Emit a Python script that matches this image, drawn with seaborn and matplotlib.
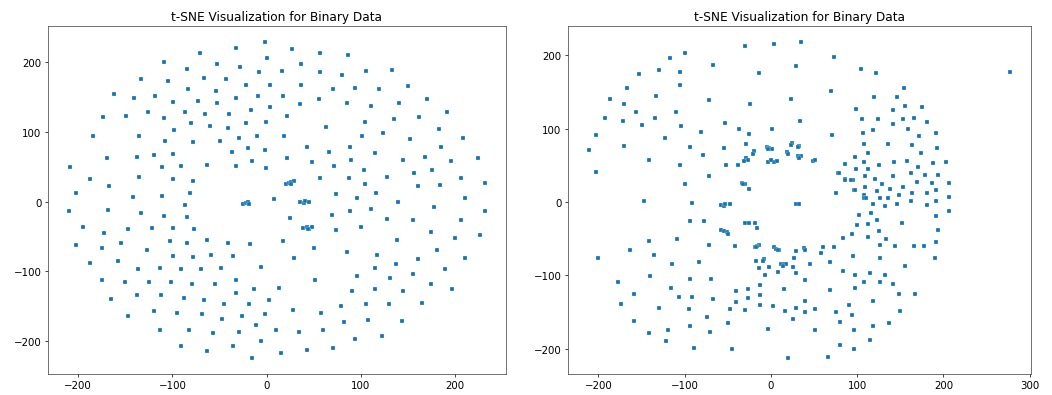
import matplotlib
matplotlib.use("Agg")
import matplotlib.pyplot as plt
import seaborn as sns
import pandas as pd

title = "t-SNE Visualization for Binary Data"

# Left panel t-SNE points (x, y)
left_points = [
    (-2, 230), (-33, 220), (27, 219), (-71, 213), (57, 213), (86, 210), (-109, 200), (0, 206), (-53, 198),
    (37, 197), (-28, 193), (-85, 191), (133, 189), (16, 188), (-8, 186), (57, 186), (106, 187), (80, 182),
    (-133, 176), (-66, 177), (-43, 176), (-105, 173), (-22, 168), (4, 167), (36, 167), (150, 166), (-83, 162),
    (70, 162), (94, 163), (119, 162), (-54, 159), (-162, 154), (-118, 152), (-9, 151), (17, 151),
    (-141, 149), (-32, 149), (170, 148), (56, 147), (-99, 143), (-73, 144), (-53, 141), (35, 140), (85, 142),
    (141, 141), (4, 136), (111, 137), (-17, 132), (-126, 129), (-87, 129), (192, 128), (-65, 126),
    (-40, 126), (-174, 122), (-149, 123), (-109, 120), (22, 123), (162, 122), (135, 119), (-22, 113), (-80, 113),
    (-1, 115), (104, 115), (-60, 108), (-41, 106), (63, 107), (-98, 103), (183, 104), (124, 99),
    (-184, 94), (-135, 94), (-29, 92), (-10, 94), (18, 94), (101, 94), (209, 91), (152, 90), (-108, 87),
    (-50, 87), (-78, 85), (-20, 77), (43, 78), (88, 79), (185, 79), (-2, 74), (-37, 71),
    (66, 71), (115, 70), (-99, 69), (-120, 67), (-138, 64), (168, 64), (224, 63), (-169, 62), (22, 62),
    (145, 60), (90, 60), (-16, 59), (48, 57), (196, 58), (-63, 53), (-32, 51), (72, 51),
    (-91, 51), (-209, 50), (-111, 49), (-1, 48), (103, 45), (176, 45), (157, 41), (-136, 35), (87, 34),
    (128, 36), (57, 34), (206, 34), (-188, 32), (-99, 32), (-78, 30),
    (21, 25), (24, 27), (26, 28), (29, 29), (26, 25), (232, 27), (104, 25), (184, 24), (-167, 22), (161, 22),
    (116, 12), (-202, 12), (-81, 12), (74, 11), (-111, 8), (96, 5), (211, 5),
    (-142, 6), (8, 4), (-25, -3), (-22, -2), (-20, -1), (-19, -3), (35, 0), (40, -2), (41, 1), (45, 0),
    (140, 0), (-210, -14), (232, -13), (-87, -5), (88, -13), (178, -8), (111, -11),
    (-168, -12), (-133, -16), (69, -19), (-85, -22), (-109, -20), (25, -24), (128, -25), (155, -27), (206, -27),
    (-195, -37), (-122, -38), (-99, -38), (-77, -39), (-147, -39), (100, -36),
    (39, -38), (43, -37), (45, -39), (48, -37), (44, -40), (74, -41), (-173, -45), (175, -43), (227, -48),
    (200, -53), (138, -55), (-103, -57), (-63, -55), (17, -56), (-155, -60), (-85, -60), (-41, -60),
    (-18, -61), (-202, -63), (-127, -69), (50, -67), (181, -70), (-175, -66), (85, -73), (-59, -77), (117, -77),
    (-99, -78), (-36, -78), (-78, -79), (29, -81), (211, -81), (161, -82), (-158, -85),
    (-187, -88), (137, -89), (-6, -94), (-113, -96), (-48, -96), (115, -96), (-137, -97), (-91, -97), (-70, -97),
    (189, -97), (96, -107), (155, -104), (-33, -112), (51, -112), (131, -110), (-175, -113),
    (-125, -116), (-150, -115), (-101, -116), (-79, -118), (-55, -119), (174, -119), (13, -124), (115, -126),
    (-13, -126), (197, -126), (145, -128), (91, -129), (-33, -131), (-138, -134), (-112, -134), (-88, -138),
    (-165, -140), (-67, -142), (2, -142), (-19, -147), (-45, -147), (105, -147), (130, -147), (165, -146),
    (79, -150), (28, -156), (-120, -157), (58, -160), (-95, -160), (-2, -161), (-69, -162), (-26, -164), (-147, -164),
    (-47, -169), (108, -170), (144, -172), (82, -173), (-11, -177), (-113, -184), (-82, -184), (10, -184), (60, -185),
    (-57, -189), (-29, -187), (34, -188), (123, -193), (94, -197), (-6, -200), (-91, -207), (-36, -208),
    (70, -210), (-63, -215), (43, -213), (15, -218), (-16, -225),
]

# Right panel t-SNE points (x, y)
right_points = [
    (35, 219), (4, 215), (-30, 213), (-100, 203), (73, 198), (-117, 196), (277, 178), (-67, 187), (29, 185),
    (104, 182), (-106, 178), (-130, 180), (-14, 176), (122, 176), (-153, 174), (-105, 160), (154, 156),
    (-167, 155), (70, 152), (-133, 145), (146, 143), (119, 143), (23, 140), (-187, 140), (-72, 139), (-170, 134),
    (-24, 134), (156, 131), (175, 129), (99, 127), (-110, 123), (-156, 123), (141, 125),
    (-192, 115), (-135, 115), (153, 113), (166, 114), (106, 113), (124, 113), (-172, 111), (34, 110), (-53, 108),
    (181, 109), (141, 106), (-150, 105), (-104, 104), (159, 100), (118, 98), (1, 99),
    (-37, 99), (-81, 96), (107, 94), (191, 94), (-203, 92), (71, 92), (172, 90), (-25, 93), (-123, 88), (136, 79),
    (108, 79), (-29, 79), (24, 80), (23, 78), (163, 78), (33, 77), (31, 75),
    (-94, 75), (-55, 74), (-170, 76), (193, 74), (-5, 75), (-2, 74), (1, 72), (-3, 72), (-211, 71), (-20, 69),
    (-21, 65), (19, 68), (20, 65), (174, 67), (112, 67), (-79, 64), (31, 63), (35, 63),
    (32, 60), (-29, 60), (-27, 58), (-31, 56), (-142, 57), (49, 56), (51, 57), (97, 62), (158, 56), (143, 54),
    (108, 55), (-3, 55), (3, 55), (7, 56), (0, 57), (125, 50), (203, 54), (188, 53),
    (-105, 50), (-52, 50), (-38, 51), (86, 52), (171, 48), (99, 45), (112, 45), (78, 40), (79, 39), (162, 39),
    (142, 36), (109, 35), (179, 37), (194, 37), (-72, 35), (86, 32), (86, 30),
    (121, 31), (95, 30), (93, 30), (169, 27), (138, 18), (187, 26), (206, 26), (129, 24), (-34, 26), (-30, 25),
    (-32, 24), (-100, 24), (109, 21), (153, 21), (-26, 18), (96, 16), (97, 16),
    (123, 15), (191, 16), (76, 13), (163, 13), (181, 12), (149, 9), (108, 9), (109, 5), (108, 5), (110, 6),
    (136, 6), (126, 5), (207, 7), (162, 1), (191, 1), (-147, 1),
    (118, -2), (146, -2), (-91, -1), (181, -4), (132, -6), (29, -2), (33, -3), (-58, -4), (-55, -5), (-53, -2),
    (-48, -3), (207, -12), (116, -15), (102, -17), (191, -19), (-94, -26), (-78, -26),
    (123, -25), (-30, -28), (-26, -29), (-19, -29), (152, -29), (100, -31), (112, -30), (-16, -35), (-58, -38),
    (-54, -40), (-51, -41), (-50, -44), (125, -39), (194, -38), (84, -49), (113, -48),
    (-109, -51), (-141, -53), (134, -50), (94, -44), (127, -58), (-72, -59), (-42, -60), (-14, -58), (-16, -60),
    (-19, -61), (-17, -61), (166, -60), (178, -60), (144, -60), (60, -62), (73, -62),
    (38, -63), (39, -65), (4, -62), (6, -64), (9, -66), (8, -65), (-164, -65), (191, -55), (29, -67), (58, -70),
    (-136, -72), (95, -74), (127, -76), (190, -76), (27, -76), (-8, -78), (-9, -81), (-17, -80), (68, -82),
    (-84, -82), (-115, -84), (45, -84), (12, -84), (15, -85), (18, -85), (14, -87), (156, -87), (26, -88),
    (-2, -89), (-14, -90), (8, -95), (84, -94), (115, -97), (29, -97), (-7, -100), (97, -100), (132, -99),
    (-140, -101), (-70, -105), (-94, -105), (40, -106), (-177, -109), (108, -109), (127, -109), (-13, -113),
    (141, -112), (-116, -117), (98, -117), (-27, -118), (15, -119), (68, -120), (-41, -122), (-159, -125),
    (148, -125), (167, -125), (-13, -127), (-107, -130), (-92, -130), (-67, -132), (-27, -131), (118, -135),
    (39, -135), (-41, -136), (-174, -139), (-13, -140), (2, -142), (91, -141), (-130, -145), (-48, -146),
    (29, -144), (51, -146), (-95, -146), (-30, -147), (39, -150), (16, -149), (76, -150), (94, -154), (-74, -157),
    (26, -159), (-159, -162), (80, -163), (-50, -165), (137, -165), (-94, -169), (118, -169), (-119, -174),
    (-4, -173), (96, -175), (51, -175), (-71, -177), (-141, -179), (150, -148), (115, -188), (-122, -190),
    (80, -195), (-89, -199), (96, -200), (-45, -201), (66, -211), (20, -213), (-200, -76), (-203, 41),
]

left_x = [p[0] for p in left_points]
left_y = [p[1] for p in left_points]
right_x = [p[0] for p in right_points]
right_y = [p[1] for p in right_points]

color = "#0f73b6"

fig = plt.figure(figsize=(16, 6.017), dpi=65.81)
ax1 = fig.add_axes([0.0456, 0.053, 0.4349, 0.8797])
ax2 = fig.add_axes([0.5394, 0.053, 0.4396, 0.8797])

for ax, xs, ys in [(ax1, left_x, left_y), (ax2, right_x, right_y)]:
    df = pd.DataFrame({"x": xs, "y": ys})
    sns.scatterplot(data=df, x="x", y="y", ax=ax, s=16, color=color,
                    edgecolor="white", linewidth=0.3, marker="s")
    ax.set_title(title, fontsize=13.3)
    ax.tick_params(labelsize=11.2)
    ax.set_xlabel("")
    ax.set_ylabel("")
    for sp in ax.spines.values():
        sp.set_color("#444444")

fig.savefig("out.png", dpi=65.81)
